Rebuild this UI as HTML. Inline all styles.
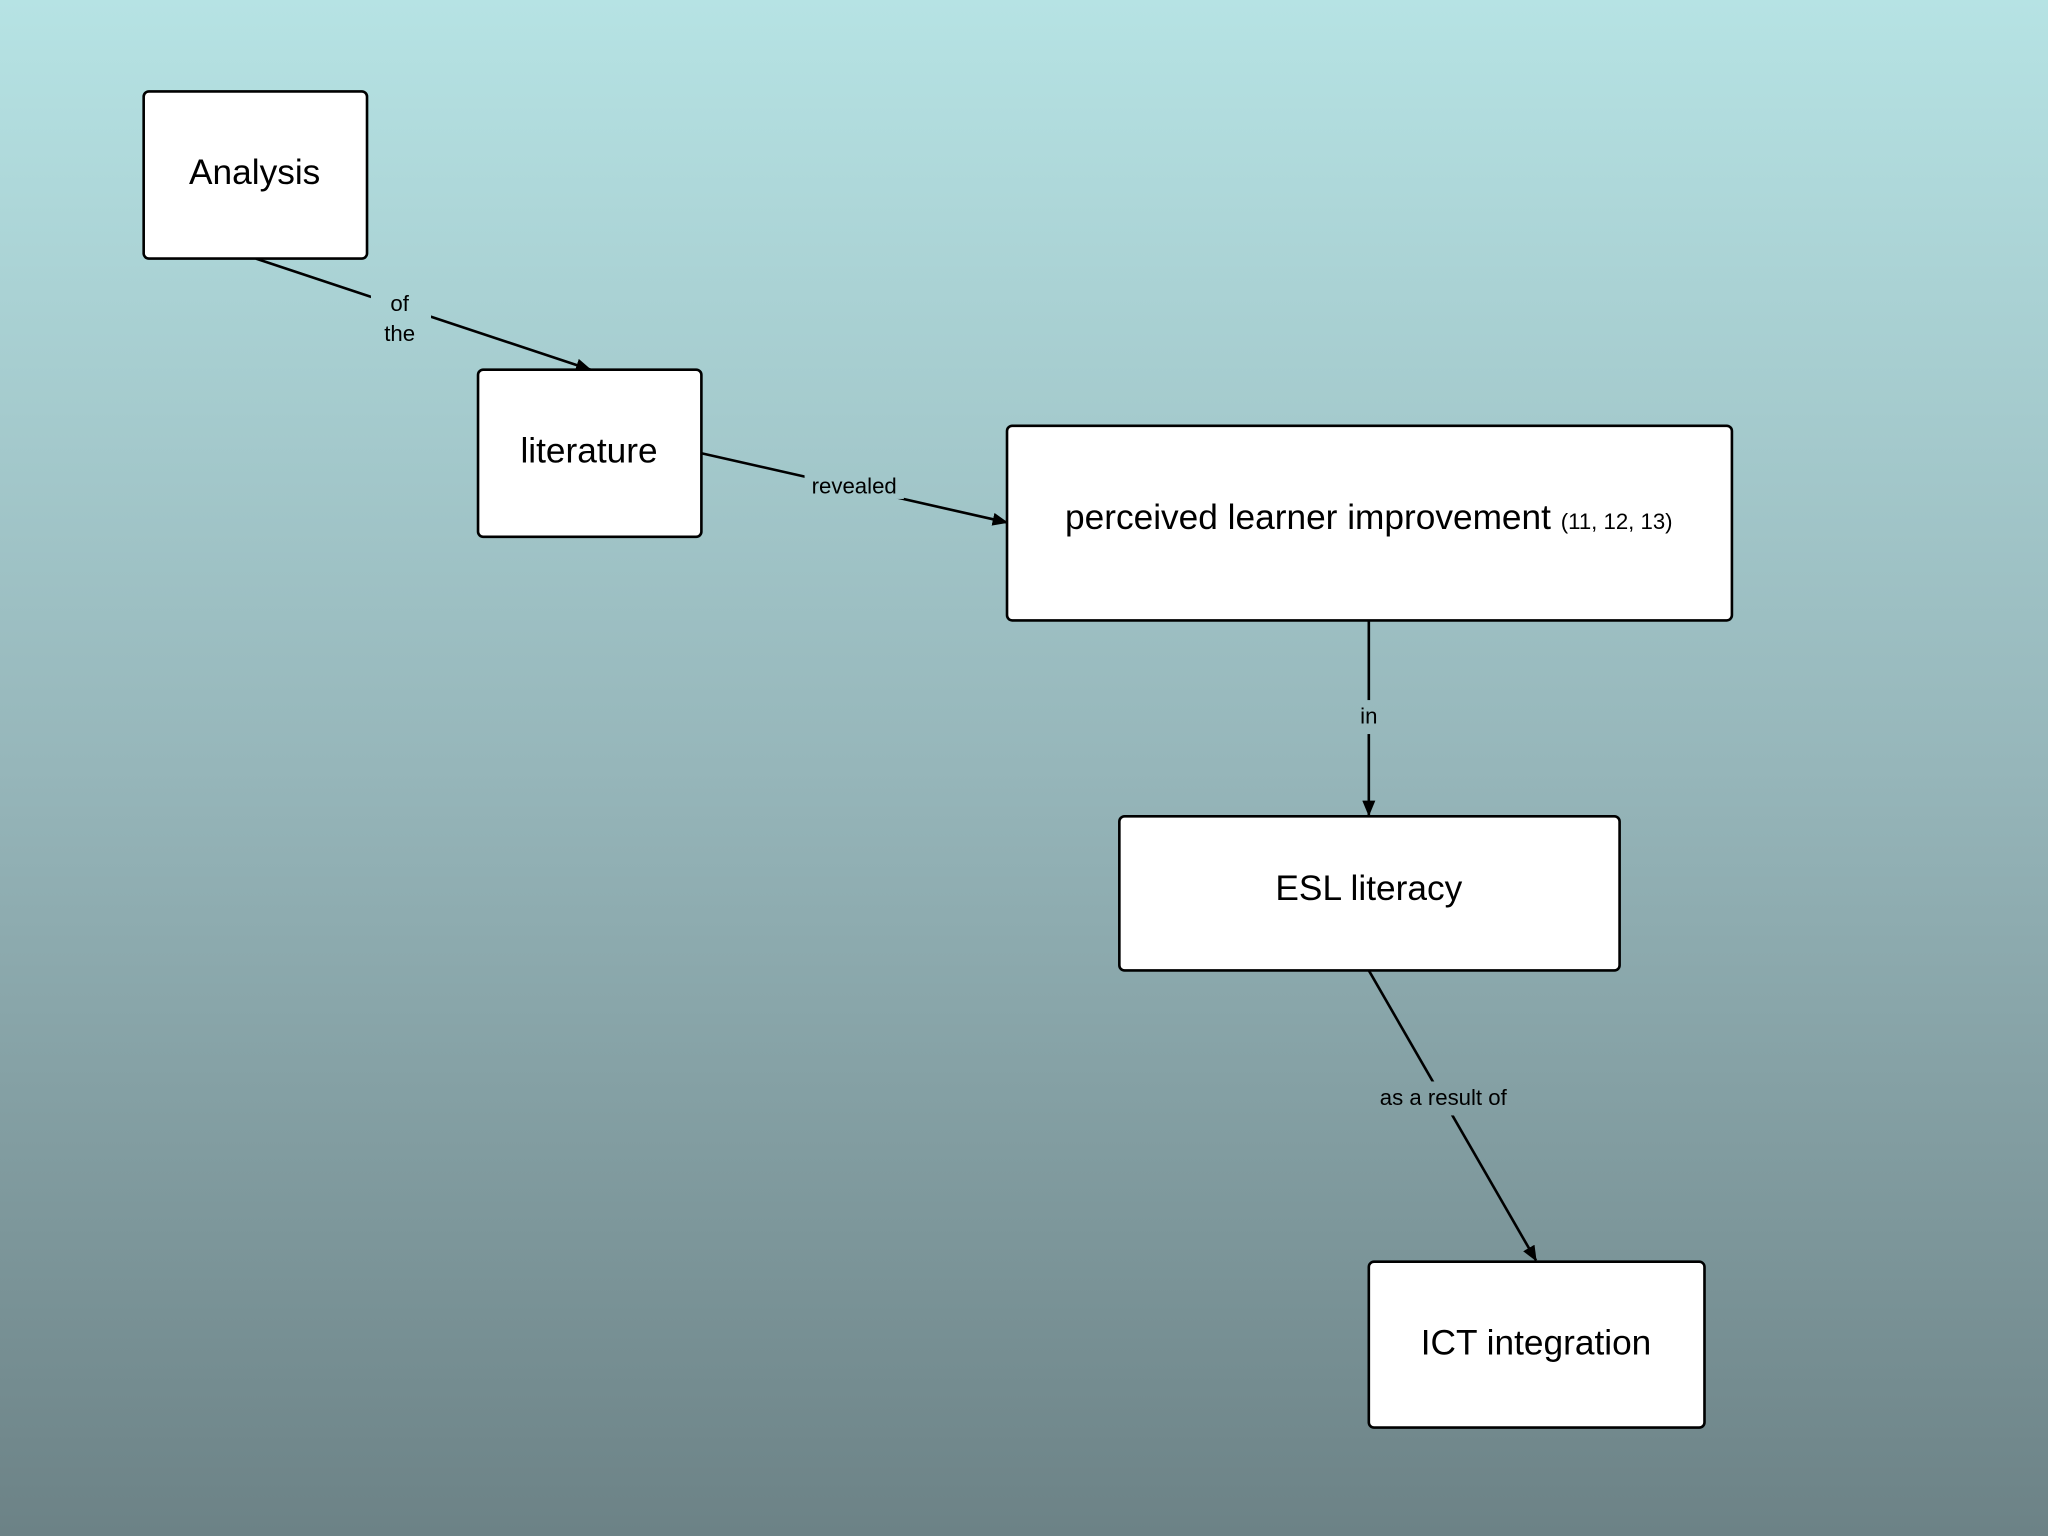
<!DOCTYPE html>
<html><head><meta charset="utf-8"><style>
html,body{margin:0;padding:0;width:2048px;height:1536px;overflow:hidden}
svg{display:block}
text{font-family:"Liberation Sans",Arial,sans-serif;fill:#000}
</style></head><body>
<svg width="2048" height="1536" viewBox="0 0 1568 1176" preserveAspectRatio="none" xmlns="http://www.w3.org/2000/svg">
<defs>
<linearGradient id="bg" gradientUnits="userSpaceOnUse" x1="0" y1="0" x2="0" y2="1176">
<stop offset="0" stop-color="#b6e3e4"/>
<stop offset="0.5" stop-color="#96b6ba"/>
<stop offset="1" stop-color="#6c8286"/>
</linearGradient>
<marker id="ah" markerWidth="12" markerHeight="10" refX="11" refY="5" orient="auto" markerUnits="userSpaceOnUse">
<path d="M0,0 L12,5 L0,10 z" fill="#000"/>
</marker>
</defs>
<rect width="1568" height="1176" fill="url(#bg)"/>
<g stroke="#000" stroke-width="2" fill="none">
<line x1="196" y1="198" x2="452" y2="283" marker-end="url(#ah)"/>
<line x1="537" y1="347" x2="771" y2="400" marker-end="url(#ah)"/>
<line x1="1048" y1="475" x2="1048" y2="624" marker-end="url(#ah)"/>
<line x1="1048" y1="743" x2="1176" y2="965" marker-end="url(#ah)"/>
</g>
<g fill="url(#bg)">
<rect x="284" y="220" width="46" height="48"/>
<rect x="616" y="360" width="76" height="22"/>
<rect x="1038" y="536" width="20" height="26"/>
<rect x="1046" y="828" width="118" height="26"/>
</g>
<g font-size="17" text-anchor="middle">
<text x="306" y="238">of</text>
<text x="306" y="261">the</text>
<text x="654" y="378">revealed</text>
<text x="1048" y="554">in</text>
<text x="1105" y="846">as a result of</text>
</g>
<g fill="#fff" stroke="#000" stroke-width="2">
<rect x="110" y="70" width="171" height="128" rx="4"/>
<rect x="366" y="283" width="171" height="128" rx="4"/>
<rect x="771" y="326" width="555" height="149" rx="4"/>
<rect x="857" y="625" width="383" height="118" rx="4"/>
<rect x="1048" y="966" width="257" height="127" rx="4"/>
</g>
<g font-size="27" text-anchor="middle">
<text x="195" y="141">Analysis</text>
<text x="451" y="354">literature</text>
<text x="1048" y="689">ESL literacy</text>
<text x="1176" y="1037">ICT integration</text>
<text x="1048" y="405">perceived learner improvement <tspan font-size="17">(11, 12, 13)</tspan></text>
</g>
</svg>
</body></html>
